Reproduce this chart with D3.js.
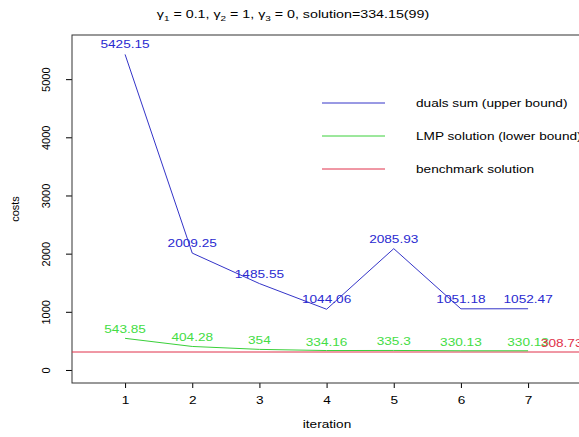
<!DOCTYPE html>
<html>
<head>
<meta charset="utf-8">
<script src="https://cdn.jsdelivr.net/npm/d3@7"></script>
<style>
	body{margin:0;background:#fff;}
	text{font-family:"Liberation Sans",Arial,sans-serif;}
</style>
</head>
<body>
<svg id="chart" width="579" height="437"></svg>
<script>
const iterations = [1,2,3,4,5,6,7];
const dualsSum = [5425.15,2009.25,1485.55,1044.06,2085.93,1051.18,1052.47];
const lmpSolution = [543.85,404.28,354,334.16,335.3,330.13,330.13];
const benchmark = 308.73;
const benchLabelIter = 7.5;
const yTicks = [0,1000,2000,3000,4000,5000];
const legendLabels = ["duals sum (upper bound)","LMP solution (lower bound)","benchmark solution"];

const BLUE = "#3434c8", BLUE_TXT = "#2a2ad0";
const GREEN = "#3ad03a", GREEN_TXT = "#44dd44";
const RED = "#e0304a";
const SX = 1.24; // the picture is stretched sideways

const box = {left:72, top:35, right:649, bottom:383};
const svg = d3.select("#chart");

const x = d3.scaleLinear().domain([0.21,8.8]).range([box.left,box.right]);
const y = d3.scaleLinear().domain([-224,5759]).range([box.bottom,box.top]);

// stretched text helper
function label(g, px, py, str, size, color, anchor){
	return g.append("text")
		.attr("transform", `translate(${px},${py}) scale(${SX},1)`)
		.attr("text-anchor", anchor || "middle")
		.attr("font-size", size)
		.attr("fill", color || "#000")
		.text(str);
}

// axes
const xAxis = svg.append("g")
	.attr("transform", `translate(0,${box.bottom})`)
	.call(d3.axisBottom(x).tickValues(iterations).tickSize(5).tickFormat(""));
xAxis.select(".domain").remove();
xAxis.selectAll(".tick").each(function(d){
	label(d3.select(this), 0, 21, d, 11);
});

const yAxis = svg.append("g")
	.attr("transform", `translate(${box.left},0)`)
	.call(d3.axisLeft(y).tickValues(yTicks).tickSize(6).tickFormat(""));
yAxis.select(".domain").remove();
yAxis.selectAll(".tick").append("text")
	.attr("transform","translate(-22,0) rotate(-90)")
	.attr("text-anchor","middle")
	.attr("font-size",11)
	.attr("fill","#000")
	.text(d => d);

svg.append("rect")
	.attr("x",box.left).attr("y",box.top)
	.attr("width",box.right-box.left).attr("height",box.bottom-box.top)
	.attr("fill","none").attr("stroke","#333").attr("stroke-width",1);

// benchmark line
svg.append("line")
	.attr("x1",box.left).attr("x2",box.right)
	.attr("y1",y(benchmark)).attr("y2",y(benchmark))
	.attr("stroke",RED).attr("stroke-width",1);

const line = d3.line().x((d,i) => x(iterations[i])).y(d => y(d));

svg.append("path").datum(dualsSum)
	.attr("d",line).attr("fill","none").attr("stroke",BLUE).attr("stroke-width",1);
svg.append("path").datum(lmpSolution)
	.attr("d",line).attr("fill","none").attr("stroke",GREEN).attr("stroke-width",1);

// value labels
const lab = svg.append("g");
dualsSum.forEach((v,i) => label(lab, x(iterations[i]), y(v)-6, v, 11, BLUE_TXT));
lmpSolution.forEach((v,i) => label(lab, x(iterations[i]), y(v)-5, v, 11, GREEN_TXT));
label(lab, x(benchLabelIter), y(benchmark)-5, benchmark, 11, RED);

// legend
const legColors = [BLUE,GREEN,RED];
const leg = svg.append("g");
legendLabels.forEach((t,i) => {
	const ly = 103 + i*33;
	leg.append("line")
		.attr("x1",322).attr("x2",385).attr("y1",ly).attr("y2",ly)
		.attr("stroke",legColors[i]).attr("stroke-width",1);
	label(leg, 416, ly+4, t, 11, "#000", "start");
});

// titles
const title = svg.append("text")
	.attr("transform",`translate(293,18) scale(${SX},1)`)
	.attr("text-anchor","middle")
	.attr("font-size",11.5)
	.attr("fill","#000");
[["γ",""],["1","sub"],[" = 0.1, γ",""],["2","sub"],[" = 1, γ",""],["3","sub"],[" = 0, solution=334.15(99)",""]]
	.forEach(([s,k]) => {
		const ts = title.append("tspan").text(s);
		if(k==="sub") ts.attr("font-size",8).attr("dy",3);
		else ts.attr("dy", title.selectAll("tspan").size()>1 ? -3 : 0);
	});

label(svg, 327, 428, "iteration", 11);
svg.append("text")
	.attr("transform","translate(19,209) rotate(-90)")
	.attr("text-anchor","middle")
	.attr("font-size",11)
	.text("costs");
</script>
</body>
</html>
